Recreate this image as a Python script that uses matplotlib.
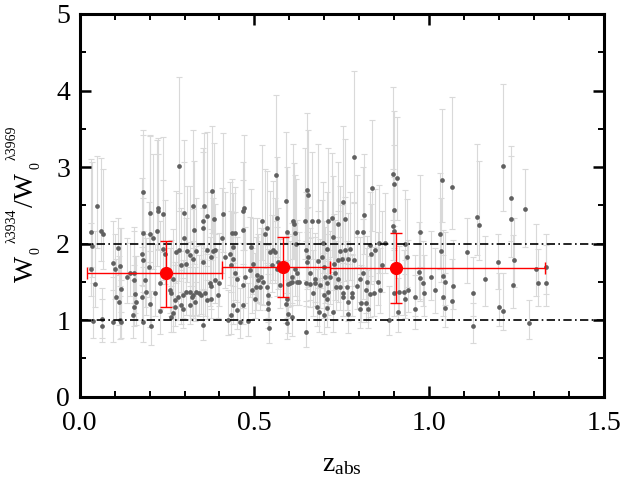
import matplotlib
matplotlib.use('Agg')
import matplotlib.pyplot as plt
from matplotlib.ticker import MultipleLocator
import numpy as np

# individual absorbers: (z_abs, W3934/W3969, err_low, err_high)
absorbers = [
    (0.033, 2.15, 0.45, 0.95), (0.036, 1.97, 0.40, 1.10), (0.031, 1.67, 0.35, 0.60),
    (0.043, 1.47, 0.30, 0.70), (0.048, 2.49, 0.55, 0.65), (0.062, 2.17, 0.40, 0.95),
    (0.067, 2.12, 0.45, 0.85), (0.065, 1.02, 0.25, 0.40), (0.065, 0.92, 0.20, 0.35),
    (0.038, 0.99, 0.22, 0.50), (0.094, 1.75, 0.35, 0.55), (0.094, 0.97, 0.25, 0.60),
    (0.100, 1.67, 0.40, 0.45), (0.103, 1.30, 0.30, 0.50), (0.110, 1.94, 0.35, 0.40),
    (0.115, 1.71, 0.40, 0.50), (0.117, 1.41, 0.30, 0.80), (0.113, 1.24, 0.30, 0.60),
    (0.115, 1.00, 0.25, 0.45), (0.117, 0.97, 0.20, 0.55), (0.136, 1.57, 0.35, 0.50),
    (0.143, 1.61, 0.30, 0.40), (0.156, 1.62, 0.40, 0.55), (0.156, 1.52, 0.30, 0.70),
    (0.158, 1.34, 0.25, 0.50), (0.160, 1.24, 0.30, 0.60), (0.155, 1.17, 0.25, 0.55),
    (0.153, 1.07, 0.30, 0.45), (0.177, 1.30, 0.30, 0.65), (0.179, 1.86, 0.40, 1.00),
    (0.181, 1.79, 0.35, 0.80), (0.181, 2.14, 0.45, 1.35), (0.180, 2.67, 0.50, 0.75),
    (0.180, 0.97, 0.25, 0.40), (0.186, 1.52, 0.35, 0.60), (0.191, 1.37, 0.30, 0.70),
    (0.199, 1.70, 0.40, 0.85), (0.201, 1.21, 0.30, 0.55), (0.202, 2.40, 0.50, 1.00),
    (0.201, 2.12, 0.45, 1.30), (0.205, 0.93, 0.25, 0.45), (0.210, 2.07, 0.40, 1.10),
    (0.215, 1.35, 0.30, 0.65), (0.220, 2.16, 0.45, 1.20), (0.223, 2.47, 0.55, 0.70),
    (0.224, 2.43, 0.50, 0.95), (0.229, 1.49, 0.35, 0.80), (0.231, 1.12, 0.30, 0.50),
    (0.237, 2.39, 0.50, 1.00), (0.239, 1.93, 0.40, 0.90), (0.284, 3.02, 0.60, 1.16),
    (0.298, 2.40, 0.50, 0.95), (0.298, 2.07, 0.45, 1.00), (0.283, 1.91, 0.40, 0.75),
    (0.306, 1.90, 0.40, 0.85), (0.323, 2.49, 0.55, 1.00), (0.327, 2.18, 0.45, 0.90),
    (0.332, 1.90, 0.40, 0.70), (0.355, 2.49, 0.55, 0.95), (0.365, 2.36, 0.50, 1.10),
    (0.243, 1.87, 0.40, 0.70), (0.277, 1.89, 0.40, 0.80), (0.291, 1.72, 0.35, 0.75),
    (0.305, 1.74, 0.40, 0.60), (0.315, 1.85, 0.40, 0.90), (0.325, 1.80, 0.35, 0.65),
    (0.377, 1.83, 0.40, 0.85), (0.382, 1.90, 0.40, 0.70), (0.430, 1.86, 0.40, 0.95),
    (0.439, 1.80, 0.35, 0.60), (0.434, 1.72, 0.35, 0.70), (0.444, 1.61, 0.35, 0.80),
    (0.449, 1.54, 0.30, 0.55), (0.473, 1.57, 0.35, 0.65), (0.487, 1.65, 0.35, 0.70),
    (0.496, 1.74, 0.40, 0.60), (0.508, 1.59, 0.35, 0.75), (0.511, 1.52, 0.30, 0.60),
    (0.468, 1.46, 0.30, 0.55), (0.267, 1.54, 0.35, 0.65), (0.258, 1.39, 0.30, 0.55),
    (0.262, 1.35, 0.30, 0.70), (0.272, 1.26, 0.25, 0.50), (0.282, 1.30, 0.30, 0.60),
    (0.296, 1.33, 0.30, 0.45), (0.305, 1.37, 0.30, 0.55), (0.315, 1.37, 0.30, 0.65),
    (0.320, 1.30, 0.25, 0.50), (0.325, 1.33, 0.30, 0.70), (0.329, 1.24, 0.25, 0.45),
    (0.334, 1.37, 0.30, 0.60), (0.342, 1.35, 0.30, 0.50), (0.348, 1.33, 0.25, 0.65),
    (0.358, 1.35, 0.30, 0.55), (0.363, 1.26, 0.25, 0.45), (0.372, 1.48, 0.30, 0.60),
    (0.377, 1.44, 0.30, 0.75), (0.377, 1.28, 0.25, 0.50), (0.396, 1.33, 0.30, 0.60),
    (0.291, 1.20, 0.25, 0.45), (0.315, 1.20, 0.25, 0.50), (0.296, 1.15, 0.25, 0.40),
    (0.272, 1.17, 0.25, 0.55), (0.267, 1.09, 0.25, 0.45), (0.262, 1.04, 0.20, 0.40),
    (0.353, 0.94, 0.20, 0.45), (0.434, 1.07, 0.25, 0.50), (0.425, 1.00, 0.20, 0.40),
    (0.458, 0.97, 0.20, 0.45), (0.482, 0.99, 0.20, 0.50), (0.439, 1.20, 0.25, 0.55),
    (0.449, 1.13, 0.25, 0.45), (0.468, 1.20, 0.25, 0.50), (0.501, 1.28, 0.25, 0.60),
    (0.494, 1.39, 0.30, 0.55), (0.506, 1.43, 0.30, 0.65), (0.354, 1.76, 0.35, 0.70),
    (0.416, 1.82, 0.40, 0.85), (0.387, 1.52, 0.30, 0.60), (0.399, 1.49, 0.30, 0.65),
    (0.352, 2.30, 0.50, 0.90), (0.354, 2.20, 0.45, 1.05), (0.380, 2.69, 0.55, 0.85),
    (0.385, 2.32, 0.50, 1.00), (0.409, 2.39, 0.50, 1.05), (0.408, 2.07, 0.45, 0.65),
    (0.363, 1.92, 0.40, 0.75), (0.387, 1.92, 0.40, 0.60), (0.435, 2.14, 0.45, 0.70),
    (0.444, 2.14, 0.45, 0.60), (0.438, 1.96, 0.40, 0.70), (0.466, 2.42, 0.50, 0.65),
    (0.470, 2.47, 0.55, 0.95), (0.466, 2.18, 0.45, 0.65), (0.490, 1.96, 0.40, 0.75),
    (0.519, 1.56, 0.35, 0.65), (0.516, 1.43, 0.30, 0.60), (0.521, 2.29, 0.50, 1.00),
    (0.525, 1.50, 0.30, 0.70), (0.530, 2.13, 0.45, 0.85), (0.535, 2.20, 0.45, 0.75),
    (0.535, 1.43, 0.30, 0.55), (0.538, 1.33, 0.30, 0.60), (0.540, 1.22, 0.25, 0.50),
    (0.540, 1.15, 0.25, 0.45), (0.543, 0.90, 0.20, 0.40), (0.545, 1.89, 0.40, 0.80),
    (0.549, 1.72, 0.35, 0.65), (0.554, 1.92, 0.40, 0.90), (0.559, 1.89, 0.40, 0.70),
    (0.562, 2.89, 0.60, 1.05), (0.564, 2.33, 0.50, 0.80), (0.568, 1.76, 0.35, 0.70),
    (0.573, 1.46, 0.30, 0.60), (0.564, 1.67, 0.35, 0.55), (0.590, 2.56, 0.55, 0.90),
    (0.592, 2.15, 0.45, 0.85), (0.594, 1.28, 0.25, 0.50), (0.597, 1.47, 0.30, 0.65),
    (0.602, 1.49, 0.30, 0.55), (0.607, 1.57, 0.35, 0.70), (0.609, 1.50, 0.30, 0.60),
    (0.611, 2.30, 0.50, 1.00), (0.614, 2.25, 0.45, 0.80), (0.616, 2.14, 0.45, 0.75),
    (0.619, 1.99, 0.40, 0.85), (0.616, 1.67, 0.35, 0.60), (0.621, 1.61, 0.35, 0.70),
    (0.623, 1.50, 0.30, 0.55), (0.629, 1.50, 0.30, 0.65), (0.590, 1.21, 0.25, 0.50),
    (0.597, 1.08, 0.25, 0.45), (0.592, 0.96, 0.20, 0.40), (0.607, 1.04, 0.25, 0.50),
    (0.645, 2.30, 0.50, 0.95), (0.648, 1.92, 0.40, 0.75), (0.650, 1.76, 0.35, 0.70),
    (0.654, 1.83, 0.40, 0.65), (0.651, 2.70, 0.55, 1.00), (0.654, 2.64, 0.55, 0.85),
    (0.659, 1.47, 0.30, 0.60), (0.648, 1.48, 0.30, 0.55), (0.664, 2.30, 0.50, 0.90),
    (0.667, 1.36, 0.30, 0.55), (0.673, 1.49, 0.30, 0.65), (0.683, 2.30, 0.50, 1.00),
    (0.678, 1.17, 0.25, 0.50), (0.686, 1.10, 0.25, 0.45), (0.688, 1.46, 0.30, 0.60),
    (0.693, 1.82, 0.40, 0.75), (0.699, 1.33, 0.30, 0.55), (0.712, 2.30, 0.50, 0.95),
    (0.709, 1.48, 0.30, 0.65), (0.712, 1.37, 0.30, 0.55), (0.707, 1.27, 0.25, 0.50),
    (0.709, 1.16, 0.25, 0.45), (0.683, 1.77, 0.35, 0.65), (0.659, 1.61, 0.35, 0.60),
    (0.673, 1.54, 0.30, 0.55), (0.647, 0.85, 0.20, 0.40), (0.696, 2.01, 0.40, 0.80),
    (0.707, 1.93, 0.40, 0.75), (0.698, 1.70, 0.35, 0.60), (0.702, 1.57, 0.35, 0.65),
    (0.698, 1.07, 0.25, 0.45), (0.785, 3.13, 0.60, 1.12), (0.755, 2.54, 0.55, 1.00),
    (0.836, 2.72, 0.55, 0.90), (0.721, 2.33, 0.50, 0.85), (0.738, 2.26, 0.45, 0.80),
    (0.760, 2.32, 0.50, 1.05), (0.793, 2.15, 0.45, 0.75), (0.812, 2.15, 0.45, 0.85),
    (0.814, 2.37, 0.50, 0.80), (0.831, 1.98, 0.40, 0.70), (0.858, 2.01, 0.40, 0.75),
    (0.874, 2.01, 0.40, 0.65), (0.896, 2.91, 0.60, 1.13), (0.900, 2.78, 0.55, 0.95),
    (0.908, 2.86, 0.55, 0.80), (0.900, 2.44, 0.50, 0.85), (0.898, 2.23, 0.45, 0.75),
    (0.900, 2.17, 0.45, 0.70), (1.037, 2.83, 0.55, 0.93), (1.031, 2.12, 0.45, 0.80),
    (1.033, 1.90, 0.40, 0.70), (0.724, 2.08, 0.45, 0.80), (0.745, 1.90, 0.40, 0.85),
    (0.760, 1.91, 0.40, 0.70), (0.774, 1.93, 0.40, 0.75), (0.740, 1.78, 0.35, 0.65),
    (0.750, 1.80, 0.35, 0.70), (0.769, 1.80, 0.35, 0.60), (0.784, 1.79, 0.35, 0.75),
    (0.728, 1.74, 0.35, 0.65), (0.717, 1.56, 0.35, 0.60), (0.731, 1.61, 0.35, 0.70),
    (0.738, 1.54, 0.30, 0.55), (0.734, 1.43, 0.30, 0.60), (0.745, 1.43, 0.30, 0.65),
    (0.753, 1.36, 0.30, 0.55), (0.764, 1.43, 0.30, 0.60), (0.779, 1.36, 0.30, 0.50),
    (0.793, 1.44, 0.30, 0.65), (0.803, 1.54, 0.30, 0.55), (0.812, 1.62, 0.35, 0.70),
    (0.822, 1.50, 0.30, 0.60), (0.820, 1.39, 0.30, 0.55), (0.831, 1.34, 0.30, 0.50),
    (0.841, 1.35, 0.30, 0.60), (0.855, 1.50, 0.30, 0.65), (0.860, 1.39, 0.30, 0.55),
    (0.865, 1.72, 0.35, 0.70), (0.846, 1.91, 0.40, 0.80), (0.833, 1.87, 0.40, 0.65),
    (0.804, 1.22, 0.25, 0.50), (0.820, 1.23, 0.25, 0.45), (0.826, 1.15, 0.25, 0.50),
    (0.801, 1.15, 0.25, 0.45), (0.769, 1.24, 0.25, 0.50), (0.779, 1.30, 0.25, 0.55),
    (0.753, 1.30, 0.25, 0.45), (0.726, 1.10, 0.25, 0.50), (0.769, 1.08, 0.25, 0.45),
    (0.884, 1.00, 0.20, 0.45), (0.900, 1.36, 0.30, 0.55), (0.915, 1.37, 0.30, 0.60),
    (0.927, 1.37, 0.30, 0.55), (0.941, 1.40, 0.30, 0.65), (0.932, 1.28, 0.25, 0.50),
    (0.910, 1.10, 0.25, 0.45), (0.938, 1.83, 0.40, 0.75), (0.932, 2.00, 0.40, 0.70),
    (0.970, 1.63, 0.35, 0.65), (0.975, 1.55, 0.30, 0.60), (0.973, 2.15, 0.45, 0.75),
    (0.984, 1.49, 0.30, 0.55), (0.986, 1.35, 0.30, 0.50), (0.960, 1.30, 0.25, 0.55),
    (0.960, 1.14, 0.25, 0.45), (1.005, 1.56, 0.30, 0.60), (1.017, 1.39, 0.30, 0.55),
    (1.046, 1.50, 0.30, 0.65), (1.041, 1.30, 0.25, 0.55), (1.039, 1.58, 0.30, 0.60),
    (1.045, 1.16, 0.25, 0.45), (1.065, 2.74, 0.55, 1.17), (1.068, 1.45, 0.30, 0.60),
    (1.066, 1.25, 0.25, 0.55), (1.110, 1.89, 0.40, 0.44), (1.125, 1.36, 0.30, 0.47),
    (1.127, 0.93, 0.23, 0.30), (1.136, 2.35, 0.50, 0.95), (1.143, 2.24, 0.45, 0.84),
    (1.160, 1.54, 0.35, 0.56), (1.196, 1.76, 0.35, 0.36), (1.201, 1.17, 0.25, 0.45),
    (1.211, 1.12, 0.25, 0.50), (1.213, 3.02, 0.60, 1.07), (1.236, 2.59, 0.55, 0.68),
    (1.234, 2.32, 0.50, 0.83), (1.243, 1.78, 0.35, 0.55), (1.241, 1.46, 0.30, 0.65),
    (1.275, 2.45, 0.50, 0.52), (1.287, 0.96, 0.20, 0.30), (1.305, 1.67, 0.35, 0.58),
    (1.313, 1.48, 0.30, 0.45), (1.335, 1.69, 0.35, 0.44), (1.335, 1.48, 0.30, 0.50),
]

# binned medians
bin_z = [0.248, 0.583, 0.904]
bin_w = [1.61, 1.69, 1.68]
bin_z_lo = [0.021, 0.408, 0.716]
bin_z_hi = [0.408, 0.716, 1.333]
bin_w_lo = [1.17, 1.30, 1.22]
bin_w_hi = [2.04, 2.08, 2.14]

plt.rcParams['font.family'] = ['Liberation Serif', 'DejaVu Serif']
plt.rcParams['mathtext.fontset'] = 'custom'
plt.rcParams['mathtext.rm'] = 'Liberation Serif'
plt.rcParams['mathtext.it'] = 'Liberation Serif:italic'

W, H = 623, 482


def ptext(fig, x, y, s, size):
    # rotated label piece placed in pixel coords (y from top)
    fig.text(x / W, 1 - y / H, s, fontsize=size, rotation=90,
             rotation_mode='anchor', ha='left', va='baseline')


def main():
    data = np.array(absorbers)
    z, w, elo, ehi = data.T

    fig = plt.figure(figsize=(W / 100, H / 100), dpi=100)
    ax = fig.add_axes([0.128, 0.177, 0.841, 0.794])

    ax.errorbar(z, w, yerr=[elo, ehi], fmt='none', ecolor='#d9d9d9',
                elinewidth=0.8, capsize=2.5, capthick=0.8, zorder=1)
    ax.plot(z, w, 'o', color='#606060', markersize=3.4, mec='none', zorder=2)

    ax.axhline(1, color='black', lw=1.2, ls=(0, (5, 2, 1, 2)), zorder=3)
    ax.axhline(2, color='black', lw=1.2, ls=(0, (5, 2, 1, 2)), zorder=3)

    bz = np.array(bin_z)
    bw = np.array(bin_w)
    xerr = [bz - np.array(bin_z_lo), np.array(bin_z_hi) - bz]
    yerr = [bw - np.array(bin_w_lo), np.array(bin_w_hi) - bw]
    ax.errorbar(bz, bw, xerr=xerr, yerr=yerr, fmt='o', color='red',
                markersize=8.5, elinewidth=1.0, capsize=4, capthick=1.0,
                zorder=5)

    ax.set_xlim(0, 1.5)
    ax.set_ylim(0, 5)
    ax.xaxis.set_major_locator(MultipleLocator(0.5))
    ax.xaxis.set_minor_locator(MultipleLocator(0.1))
    ax.yaxis.set_major_locator(MultipleLocator(1))
    ax.yaxis.set_minor_locator(MultipleLocator(0.5))
    ax.xaxis.set_major_formatter(plt.FormatStrFormatter('%.1f'))

    ax.tick_params(which='both', direction='in', top=True, right=True,
                   labelsize=20)
    ax.tick_params(which='major', length=8, width=1.8)
    ax.tick_params(which='minor', length=4, width=1.4)
    ax.tick_params(axis='x', pad=10)
    ax.tick_params(axis='y', pad=7)
    for s in ax.spines.values():
        s.set_linewidth(2.2)

    ax.set_xlabel(r'z$_{\mathrm{abs}}$', fontsize=20, labelpad=12)

    # y label built from pieces so the scripts stay small
    ptext(fig, 33, 282, 'W', 20)
    ptext(fig, 39, 254, '0', 10)
    ptext(fig, 16, 243, '\u03bb3934', 10)
    ptext(fig, 33, 207, '/W', 20)
    ptext(fig, 39, 169, '0', 10)
    ptext(fig, 16, 160, '\u03bb3969', 10)

    fig.savefig('out.png', dpi=100)


if __name__ == '__main__':
    main()
